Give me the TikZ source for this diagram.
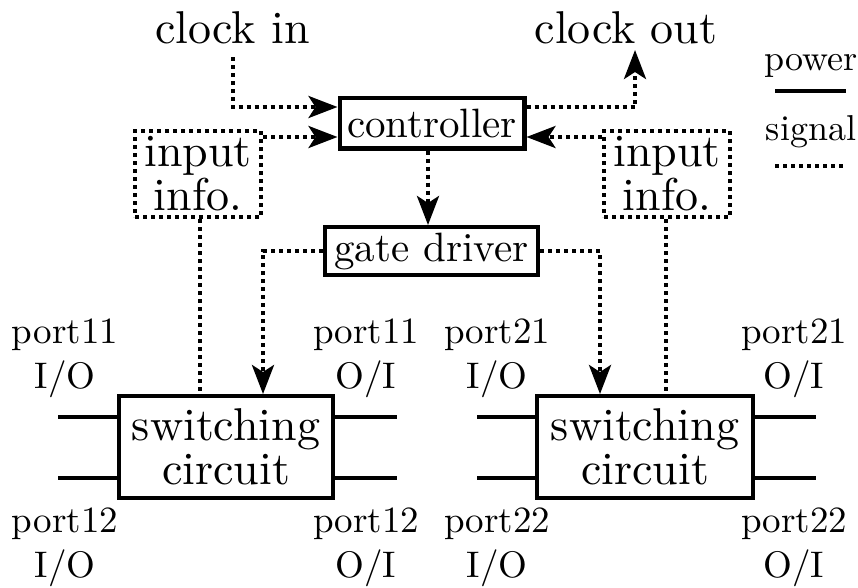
\documentclass[tikz,border=0pt]{standalone}
\usepackage{fontspec}
\setmainfont{lmroman10-regular}[Extension=.otf]
\usetikzlibrary{arrows.meta}

\begin{document}
\begin{tikzpicture}[x=1pt,y=-1pt,
  txtL/.style={font=\fontsize{46}{44}\selectfont, align=center, inner sep=0pt},
  txtM/.style={font=\fontsize{41}{44}\selectfont, inner sep=0pt},
  txtS/.style={font=\fontsize{37}{40}\selectfont, anchor=base, inner sep=0pt},
  blk/.style={draw, line width=4.2pt},
  sig/.style={line width=4pt, dash pattern=on 4pt off 4pt},
  pwr/.style={line width=4pt},
  infobox/.style={draw, sig, txtL, minimum width=126pt, minimum height=86pt},
  arr/.style={-{Stealth[length=29pt,width=22pt,inset=7pt]}},
]
\useasboundingbox (0,0) rectangle (858,587);

% blocks
\node[blk, txtM, minimum width=184.8pt, minimum height=50.8pt] (ctrl) at (432,123) {controller};
\node[blk, txtM, minimum width=213pt, minimum height=47.8pt] (gate) at (431.4,251) {gate driver};
\node[blk, txtL, minimum width=214pt, minimum height=101.8pt] (sw1) at (226,447) {switching\\circuit};
\node[blk, txtL, minimum width=215.8pt, minimum height=101.8pt] (sw2) at (645,447) {switching\\circuit};
\node[infobox] (in1) at (198,174) {input\\info.};
\node[infobox] (in2) at (667,174) {input\\info.};

% clock labels
\node[txtL, anchor=base] (cin) at (232.5,43) {clock in};
\node[txtL, anchor=base] (cout) at (626,43) {clock out};
\coordinate (coutEnd) at (635,50);

% legend
\node[txtS, font=\fontsize{36}{40}\selectfont] (lgp) at (811,70) {power};
\node[txtS, font=\fontsize{36}{40}\selectfont] (lgs) at (811,140) {signal};
\coordinate (pw1) at (775,91);
\coordinate (pw2) at (846,91);
\coordinate (sg1) at (775,166);
\coordinate (sg2) at (846,166);
\draw[pwr] (pw1) -- (pw2);
\draw[sig] (sg1) -- (sg2);

% controller signal points
\coordinate (cwU) at ([yshift=16pt]ctrl.west);
\coordinate (cwL) at ([yshift=-14pt]ctrl.west);
\coordinate (ceU) at ([yshift=16pt]ctrl.east);
\coordinate (ceL) at ([yshift=-14pt]ctrl.east);

% signal connectors
\draw[sig, arr, shorten <=14pt] (cin.base) |- (cwU);
\draw[sig, arr] (in1.east |- cwL) -- (cwL);
\draw[sig, arr] (ceU) -| (coutEnd);
\draw[sig, arr] (in2.west |- ceL) -- (ceL);
\draw[sig, arr] ([xshift=-4pt]ctrl.south) -- ([xshift=-4pt]ctrl.south |- gate.north);
\draw[sig, arr] (gate.west) -| ([xshift=37pt]sw1.north);
\draw[sig, arr] (gate.east) -| ([xshift=-45pt]sw2.north);
\draw[sig] ([xshift=2pt]in1.south) -- ([xshift=2pt]in1.south |- sw1.north);
\draw[sig] ([xshift=-1pt]in2.south) -- ([xshift=-1pt]in2.south |- sw2.north);

% power terminals
\coordinate (a11) at (58,417);
\coordinate (a12) at (58,478);
\coordinate (b11) at (397,417);
\coordinate (b12) at (397,478);
\coordinate (a21) at (477,417);
\coordinate (a22) at (477,478);
\coordinate (b21) at (816,417);
\coordinate (b22) at (816,478);
\draw[pwr] (a11) -- (a11 -| sw1.west);
\draw[pwr] (a12) -- (a12 -| sw1.west);
\draw[pwr] (sw1.east |- b11) -- (b11);
\draw[pwr] (sw1.east |- b12) -- (b12);
\draw[pwr] (a21) -- (a21 -| sw2.west);
\draw[pwr] (a22) -- (a22 -| sw2.west);
\draw[pwr] (sw2.east |- b21) -- (b21);
\draw[pwr] (sw2.east |- b22) -- (b22);

% port labels
\node[txtS] (p11l) at (65,343) {port11};
\node[txtS] (p11la) at (65,388) {I/O};
\node[txtS] (p11r) at (366,343) {port11};
\node[txtS] (p11ra) at (366,388) {O/I};
\node[txtS] (p12l) at (65,532) {port12};
\node[txtS] (p12la) at (65,577) {I/O};
\node[txtS] (p12r) at (366,532) {port12};
\node[txtS] (p12ra) at (366,577) {O/I};
\node[txtS] (p21l) at (497,343) {port21};
\node[txtS] (p21la) at (497,388) {I/O};
\node[txtS] (p21r) at (794,343) {port21};
\node[txtS] (p21ra) at (794,388) {O/I};
\node[txtS] (p22l) at (497,532) {port22};
\node[txtS] (p22la) at (497,577) {I/O};
\node[txtS] (p22r) at (794,532) {port22};
\node[txtS] (p22ra) at (794,577) {O/I};
\end{tikzpicture}
\end{document}
